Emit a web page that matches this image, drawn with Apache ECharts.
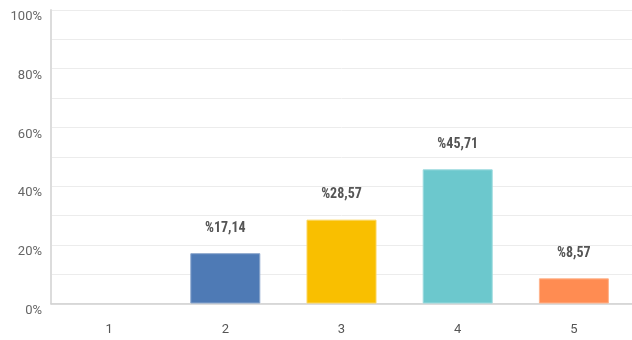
<!DOCTYPE html>
<html>
<head>
<meta charset="utf-8">
<script src="https://cdn.jsdelivr.net/npm/echarts@6/dist/echarts.min.js"></script>
<style>
  html, body { margin: 0; padding: 0; background: #fff; }
  #chart { width: 632px; height: 340px; }
</style>
</head>
<body>
<div id="chart"></div>
<script>
// Answer categories and the share of responses (percent) for each
const categories = ['1', '2', '3', '4', '5'];
const shares = [0, 17.14, 28.57, 45.71, 8.57];
const barColors = ['#4e7ab5', '#4e7ab5', '#f9bf00', '#6cc8cd', '#ff8c52'];
const barEdges = ['#8aa6cc', '#8aa6cc', '#fbd55c', '#9bdade', '#ffb38c'];
const yTicks = [0, 20, 40, 60, 80, 100];

const chart = echarts.init(document.getElementById('chart'));

chart.setOption({
  animation: false,
  grid: { left: 51, right: -4.5, top: 10, bottom: 36.5 },
  xAxis: {
    type: 'category',
    data: categories,
    axisTick: { show: false },
    axisLine: { lineStyle: { color: '#cfcfcf', width: 1.5 } },
    axisLabel: {
      color: '#555',
      fontFamily: 'Roboto',
      fontSize: 13,
      margin: 20
    }
  },
  yAxis: {
    type: 'value',
    min: 0,
    max: 100,
    interval: 10,
    axisLine: { show: true, lineStyle: { color: '#dcdcdc', width: 2 } },
    axisTick: { show: false },
    splitLine: { lineStyle: { color: '#ececec', width: 1 } },
    axisLabel: {
      color: '#666',
      fontFamily: 'Roboto',
      fontSize: 13,
      margin: 9,
      verticalAlign: 'top',
      lineHeight: 14,
      formatter: v => (yTicks.indexOf(v) >= 0 ? v + '%' : '')
    }
  },
  series: [{
    type: 'bar',
    barWidth: 70,
    data: shares.map((v, i) => ({
      value: v,
      itemStyle: {
        color: barColors[i],
        borderColor: barEdges[i],
        borderWidth: v > 0 ? 1 : 0
      }
    })),
    label: {
      show: true,
      position: 'top',
      distance: 18,
      color: '#555',
      fontFamily: 'Roboto Condensed, Roboto',
      fontWeight: 'bold',
      fontSize: 14,
      formatter: p => (p.value > 0 ? '%' + p.value.toFixed(2).replace('.', ',') : '')
    }
  }]
});
</script>
</body>
</html>
